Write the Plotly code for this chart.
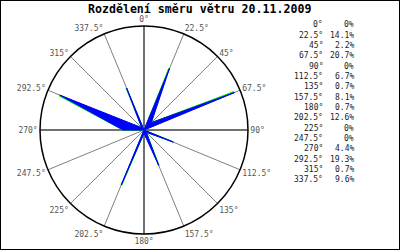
import plotly.graph_objects as go

directions = [0, 22.5, 45, 67.5, 90, 112.5, 135, 157.5, 180, 202.5, 225, 247.5, 270, 292.5, 315, 337.5]
percents = [0, 14.1, 2.2, 20.7, 0, 6.7, 0.7, 8.1, 0.7, 12.6, 0, 0, 4.4, 19.3, 0.7, 9.6]
tick_labels = ["0°", "22.5°", "45°", "67.5°", "90°", "112.5°", "135°", "157.5°",
               "180°", "202.5°", "225°", "247.5°", "270°", "292.5°", "315°", "337.5°"]
title_text = "Rozdělení směru větru 20.11.2009"

R_MAX = 22
W, H = 400, 250
cx, cy, rad = 144, 130, 104

r_closed = percents + [percents[0]]
t_closed = directions + [directions[0]]

fig = go.Figure()

# main axes (0-180, 90-270) slightly heavier
for a in (0, 90):
    fig.add_trace(go.Scatterpolar(r=[R_MAX, 0, R_MAX], theta=[a, a, a + 180], mode="lines",
                                  line=dict(color="#707070", width=2), hoverinfo="skip",
                                  showlegend=False))

# green edge (slightly rotated), then blue fill
fig.add_trace(go.Scatterpolar(r=r_closed, theta=[t - 0.6 for t in t_closed], mode="lines",
                              fill="toself", fillcolor="#00ee00",
                              line=dict(color="#00ee00", width=1), showlegend=False))
fig.add_trace(go.Scatterpolar(r=r_closed, theta=t_closed, mode="lines",
                              fill="toself", fillcolor="#0000ff",
                              line=dict(color="#0000ff", width=1), showlegend=False))

fig.update_layout(
    width=W, height=H,
    margin=dict(l=0, r=0, t=0, b=0),
    paper_bgcolor="white",
    plot_bgcolor="white",
    showlegend=False,
    polar=dict(
        domain=dict(x=[(cx - rad) / W, (cx + rad) / W],
                    y=[(H - cy - rad) / H, (H - cy + rad) / H]),
        bgcolor="white",
        radialaxis=dict(visible=False, range=[0, R_MAX]),
        angularaxis=dict(
            direction="clockwise", rotation=90,
            tickmode="array", tickvals=directions, ticktext=tick_labels,
            showgrid=True, gridcolor="#808080", gridwidth=1,
            showline=True, linecolor="black", linewidth=1.5,
            ticks="", ticklen=0,
            tickfont=dict(family="DejaVu Sans Mono", size=8, color="#555555"),
        ),
    ),
)

annotations = [dict(text="<b>" + title_text + "</b>", x=199 / W, y=1 - 9 / H,
                    xref="paper", yref="paper", xanchor="center", yanchor="middle",
                    showarrow=False,
                    font=dict(family="DejaVu Sans Mono", size=11.6, color="black"))]
for i, (d, p) in enumerate(zip(tick_labels, percents)):
    yy = 1 - (25 + 10.33 * i) / H
    ptxt = "0%" if p == 0 else f"{p:.1f}%"
    annotations.append(dict(text=d, x=325 / W, y=yy, xref="paper", yref="paper",
                            xanchor="right", yanchor="middle", showarrow=False,
                            font=dict(family="DejaVu Sans Mono", size=8, color="#222222")))
    annotations.append(dict(text=ptxt, x=356 / W, y=yy, xref="paper", yref="paper",
                            xanchor="right", yanchor="middle", showarrow=False,
                            font=dict(family="DejaVu Sans Mono", size=8, color="#222222")))
fig.update_layout(annotations=annotations)

fig.add_shape(type="rect", xref="paper", yref="paper", x0=0, y0=0, x1=1, y1=1,
              line=dict(color="black", width=2))

fig.write_html("out.html")
